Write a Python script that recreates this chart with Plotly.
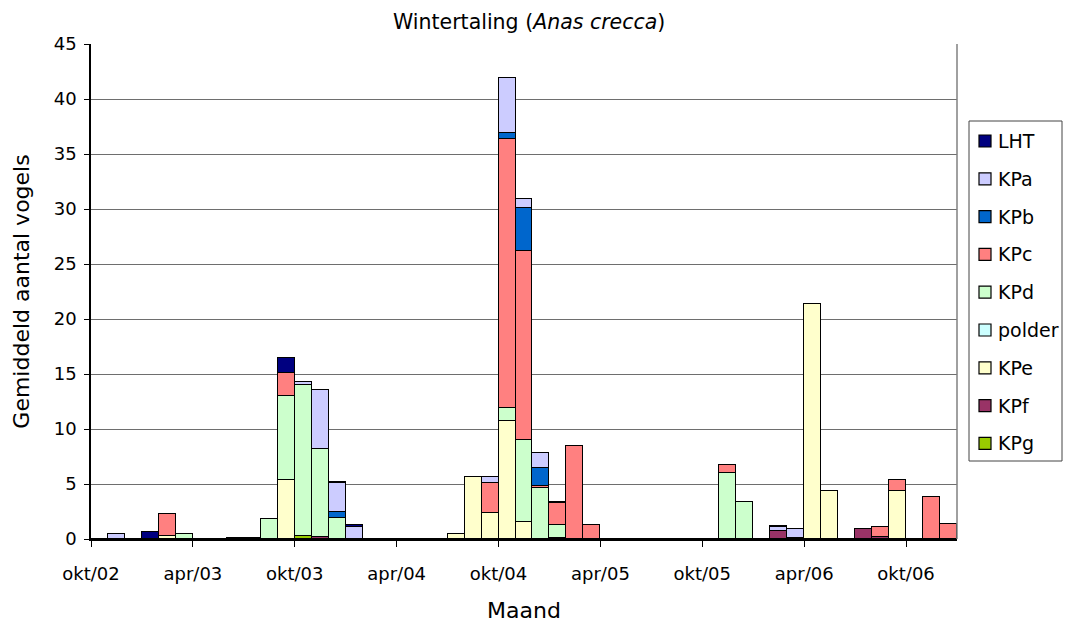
import plotly.graph_objects as go

# Months from okt/02 through dec/06 (51 monthly slots)
dutch_months = ["jan", "feb", "mrt", "apr", "mei", "jun", "jul", "aug", "sep", "okt", "nov", "dec"]
months = []
y, m = 2002, 10
while (y, m) <= (2006, 12):
    months.append(f"{dutch_months[m - 1]}/{str(y)[2:]}")
    m += 1
    if m > 12:
        m, y = 1, y + 1

# Average number of birds per month and area (51 values each, okt/02 .. dec/06)
#              okt  nov  dec  jan  feb  mrt  apr  mei  jun  jul  aug  sep
LHT = [0,   0,   0,   0.6, 0,   0,   0,   0,   0,   0,   0,   1.35,
       0,   0,   0.15, 0.15, 0,  0,   0,   0,   0,   0,   0,   0,
       0,   0,   0,   0.1, 0,   0,   0,   0,   0,   0,   0,   0,
       0,   0,   0,   0,   0.1, 0,   0,   0,   0,   0,   0,   0,
       0,   0,   0]
KPa = [0,   0.5, 0,   0,   0,   0,   0,   0,   0,   0,   0,   0,
       0.3, 5.4, 2.6, 1.1, 0,   0,   0,   0,   0,   0,   0,   0.6,
       4.95, 0.85, 1.4, 0,  0,   0,   0,   0,   0,   0,   0,   0,
       0,   0,   0,   0,   0.3, 0.85, 0,  0,   0,   0,   0,   0,
       0,   0,   0]
KPb = [0,   0,   0,   0,   0,   0,   0,   0,   0,   0,   0,   0,
       0,   0,   0.55, 0,  0,   0,   0,   0,   0,   0,   0,   0,
       0.6, 3.95, 1.6, 0,  0,   0,   0,   0,   0,   0,   0,   0,
       0,   0,   0,   0,   0,   0,   0,   0,   0,   0,   0,   0,
       0,   0,   0]
KPc = [0,   0,   0,   0,   1.95, 0,  0,   0,   0,   0,   0,   2.1,
       0,   0,   0,   0,   0,   0,   0,   0,   0,   0,   0,   2.65,
       24.4, 17.15, 0.25, 2.05, 8.45, 1.25, 0, 0, 0,  0,   0,   0,
       0,   0.7, 0,   0,   0,   0,   0,   0,   0,   0,   0.9, 1.0,
       0,   3.85, 1.4]
KPd = [0,   0,   0,   0,   0,   0.45, 0,  0,   0,   0,   1.8, 7.65,
       13.75, 8.0, 1.9, 0,  0,   0,   0,   0,   0,   0,   0,   0,
       1.2, 7.45, 4.6, 1.15, 0,  0,   0,   0,   0,   0,   0,   0,
       0,   6.0, 3.4, 0,   0,   0,   0,   0,   0,   0,   0,   0,
       0,   0,   0]
polder = [0] * 51
KPe = [0,   0,   0,   0,   0.3, 0,   0,   0,   0,   0,   0,   5.35,
       0,   0,   0,   0,   0,   0,   0,   0,   0,   0.45, 5.65, 2.4,
       10.75, 1.55, 0,  0,   0,   0,   0,   0,   0,   0,   0,   0,
       0,   0,   0,   0,   0,   0,   21.4, 4.35, 0,  0,   0,   4.35,
       0,   0,   0]
KPf = [0,   0,   0,   0,   0,   0,   0,   0,   0.1, 0.1, 0,   0,
       0,   0.15, 0,  0,   0,   0,   0,   0,   0,   0,   0,   0,
       0,   0,   0,   0.1, 0,   0,   0,   0,   0,   0,   0,   0,
       0,   0,   0,   0,   0.75, 0.1, 0,  0,   0,   0.95, 0.2, 0,
       0,   0,   0]
KPg = [0,   0,   0,   0,   0,   0,   0,   0,   0,   0,   0,   0,
       0.25, 0,  0,   0,   0,   0,   0,   0,   0,   0,   0,   0,
       0,   0,   0,   0,   0,   0,   0,   0,   0,   0,   0,   0,
       0,   0,   0,   0,   0,   0,   0,   0,   0,   0,   0,   0,
       0,   0,   0]

tick_labels = ["okt/02", "apr/03", "okt/03", "apr/04", "okt/04", "apr/05", "okt/05", "apr/06", "okt/06"]
tick_positions = [0, 6, 12, 18, 24, 30, 36, 42, 48]

# Stacked from the bottom up; the legend lists them top-down in reverse
series = [
    ("KPg", KPg, "#99CC00"),
    ("KPf", KPf, "#993366"),
    ("KPe", KPe, "#FFFFCC"),
    ("polder", polder, "#CCFFFF"),
    ("KPd", KPd, "#CCFFCC"),
    ("KPc", KPc, "#FF8080"),
    ("KPb", KPb, "#0066CC"),
    ("KPa", KPa, "#CCCCFF"),
    ("LHT", LHT, "#000080"),
]

x_pos = [i + 0.5 for i in range(len(months))]

fig = go.Figure()
for name, vals, color in series:
    fig.add_trace(go.Bar(
        x=x_pos, y=vals, name=name, width=1.0,
        marker=dict(color=color, line=dict(color="black", width=1.5)),
        customdata=months,
        hovertemplate="%{customdata}: %{y}<extra>" + name + "</extra>",
    ))

FONT = "DejaVu Sans, Verdana, sans-serif"
W, H = 1066, 623
L, R, T, B = 91, 109, 44, 84
PW, PH = W - L - R, H - T - B


def px_x(px):
    """Pixel column -> paper x."""
    return (px - L) / PW


def px_y(py):
    """Pixel row -> paper y."""
    return (H - B - py) / PH


fig.update_layout(
    width=W, height=H,
    barmode="stack", bargap=0,
    plot_bgcolor="white", paper_bgcolor="white",
    margin=dict(l=L, r=R, t=T, b=B, autoexpand=False),
    font=dict(family=FONT, size=18, color="black"),
    title=dict(text="Wintertaling (<i>Anas crecca</i>)", x=0.506, xref="paper",
               y=0.965, yanchor="middle", font=dict(size=20.5)),
    showlegend=False,
    xaxis=dict(
        range=[0, 51], tickmode="array", tickvals=tick_positions, ticktext=tick_labels,
        ticks="outside", ticklen=6, tickcolor="black", showgrid=False,
        showline=True, linecolor="black", linewidth=1.5, zeroline=False,
        ticklabelstandoff=12,
        title=dict(text="Maand", standoff=22), tickfont=dict(size=18), automargin=False,
    ),
    yaxis=dict(
        range=[0, 45], dtick=5, ticks="outside", ticklen=5, tickcolor="black",
        showgrid=True, gridcolor="#6e6e6e", gridwidth=1.2,
        showline=True, linecolor="black", linewidth=1.5, zeroline=False,
        ticklabelstandoff=4,
        title=dict(text="Gemiddeld aantal vogels", standoff=18), tickfont=dict(size=18),
        automargin=False,
    ),
)

# Plot-area frame on the right side
fig.add_shape(type="line", xref="paper", yref="paper", x0=1, x1=1, y0=0, y1=1,
              line=dict(color="#808080", width=1.5))

# Legend box drawn beside the plot, top entry first (reverse of stacking order)
fig.add_shape(type="rect", xref="paper", yref="paper",
              x0=px_x(969), x1=px_x(1062), y0=px_y(461), y1=px_y(121),
              line=dict(color="#444444", width=1), fillcolor="white", layer="above")
row_y0, row_step = 141, 37.8
for k, (name, vals, color) in enumerate(reversed(series)):
    cy = row_y0 + k * row_step
    fig.add_shape(type="rect", xref="paper", yref="paper",
                  x0=px_x(979), x1=px_x(991), y0=px_y(cy + 6), y1=px_y(cy - 6),
                  line=dict(color="black", width=1.2), fillcolor=color, layer="above")
    fig.add_annotation(xref="paper", yref="paper", x=px_x(996), y=px_y(cy),
                       text=name, showarrow=False, xanchor="left", yanchor="middle",
                       font=dict(size=19, family=FONT, color="black"))

fig.write_html("out.html")
